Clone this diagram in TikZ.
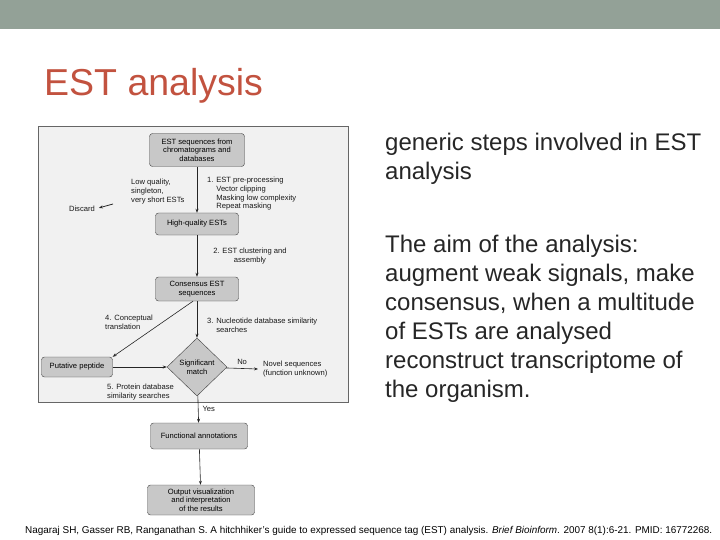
\documentclass[tikz,border=0pt]{standalone}
\usepackage{fontspec}
\setmainfont{Liberation Sans}
\usetikzlibrary{arrows.meta,shapes.geometric,positioning}

\definecolor{barcol}{HTML}{93A197}
\definecolor{titlecol}{HTML}{C2523F}
\definecolor{bodycol}{HTML}{262626}
\definecolor{boxcol}{HTML}{C8C8C8}
\definecolor{panelcol}{HTML}{F1F1F1}
\newcommand{\figfont}{\fontsize{7.6}{8.7}\selectfont}

\begin{document}
\begin{tikzpicture}[x=1pt, y=-1pt,
    stepbox/.style={draw=black!75, rounded corners=3pt, fill=boxcol, align=center, font=\figfont, inner sep=1pt},
    decision/.style={draw=black!75, diamond, fill=boxcol, align=center, font=\figfont, inner sep=0pt, minimum width=60pt, minimum height=58pt},
    lbl/.style={font=\figfont, align=left, inner sep=0pt, text=black!90},
    arr/.style={-{Stealth[length=4pt]}, semithick, black!85},
    body/.style={font=\fontsize{24}{29}\selectfont, text=bodycol, align=left, anchor=north west, inner sep=0pt}
]
\useasboundingbox (0,0) rectangle (720,540);
\fill[barcol] (0,0) rectangle (720,29);
\node[anchor=base west, inner sep=0pt, text=titlecol, font=\fontsize{37.5}{38}\selectfont] (title) at (44,96) {EST analysis};

% figure panel
\draw[black!60, fill=panelcol] (38,126) rectangle (348,402);

\node[stepbox, minimum width=95pt, minimum height=33pt] (src) at (197,150) {EST sequences from\\chromatograms and\\databases};
\node[stepbox, minimum width=83pt, minimum height=22pt] (hq) at (197,224) {High-quality ESTs};
\node[stepbox, minimum width=83pt, minimum height=24pt] (cons) at (197,289) {Consensus EST\\sequences};
\node[decision] (sig) at (197,367) {Significant\\match};
\node[stepbox, minimum width=71pt, minimum height=20pt] (pep) at (77,367) {Putative peptide};
\node[stepbox, minimum width=97pt, minimum height=26pt] (func) at (199,436) {Functional annotations};
\node[stepbox, minimum width=107pt, minimum height=30pt] (out) at (201,500) {Output visualization\\and interpretation\\of the results};

\node[lbl, anchor=north west] (pre) at (207,177) {1. EST pre-processing\\\phantom{1. }Vector clipping\\\phantom{1. }Masking low complexity\\\phantom{1. }Repeat masking};
\node[lbl, anchor=north west] (lowq) at (131,179) {Low quality,\\singleton,\\very short ESTs};
\node[lbl, anchor=east] (discard) at (95,209) {Discard};
\coordinate (dtail) at (113,204);
\node[lbl, align=center] (clus) at (250,256) {2. EST clustering and\\assembly};
\node[lbl, anchor=north west] (nucl) at (207,318) {3. Nucleotide database similarity\\\phantom{3. }searches};
\node[lbl, anchor=north west] (trans) at (105,315) {4. Conceptual\\translation};
\node[lbl, anchor=north west] (prot) at (107,384) {5. Protein database\\similarity searches};
\node[lbl, anchor=west] (novel) at (263,369) {Novel sequences\\(function unknown)};

\draw[arr] (src) -- (hq);
\draw[arr, thick, shorten >=4pt] (dtail) -- (discard.east);
\draw[arr] (hq) -- (cons);
\draw[arr] (cons) -- (sig);
\draw[arr] ([xshift=-4pt]cons.south) -- (pep.north east);
\draw[arr] (pep) -- (sig);
\draw[arr] (sig) -- node[lbl, above=4pt] {No} ([xshift=-5pt]novel.west);
\draw[arr] (sig) -- node[lbl, right=4pt] {Yes} (func);
\draw[arr] (func) -- (out);

% text on the right
\node[body] (generic) at (385,133) {generic steps involved in EST\\analysis};
\node[body] (aim) at (385,234.5) {The aim of the analysis:\\augment weak signals, make\\consensus, when a multitude\\of ESTs are analysed\\reconstruct transcriptome of\\the organism.};

\node[anchor=base west, inner sep=0pt, font=\fontsize{9}{9}\selectfont] (cite) at (25,533) {\resizebox{687pt}{!}{Nagaraj SH, Gasser RB, Ranganathan S. A hitchhiker's guide to expressed sequence tag (EST) analysis. \textit{Brief Bioinform}. 2007 8(1):6-21. PMID: 16772268.}};
\end{tikzpicture}
\end{document}
